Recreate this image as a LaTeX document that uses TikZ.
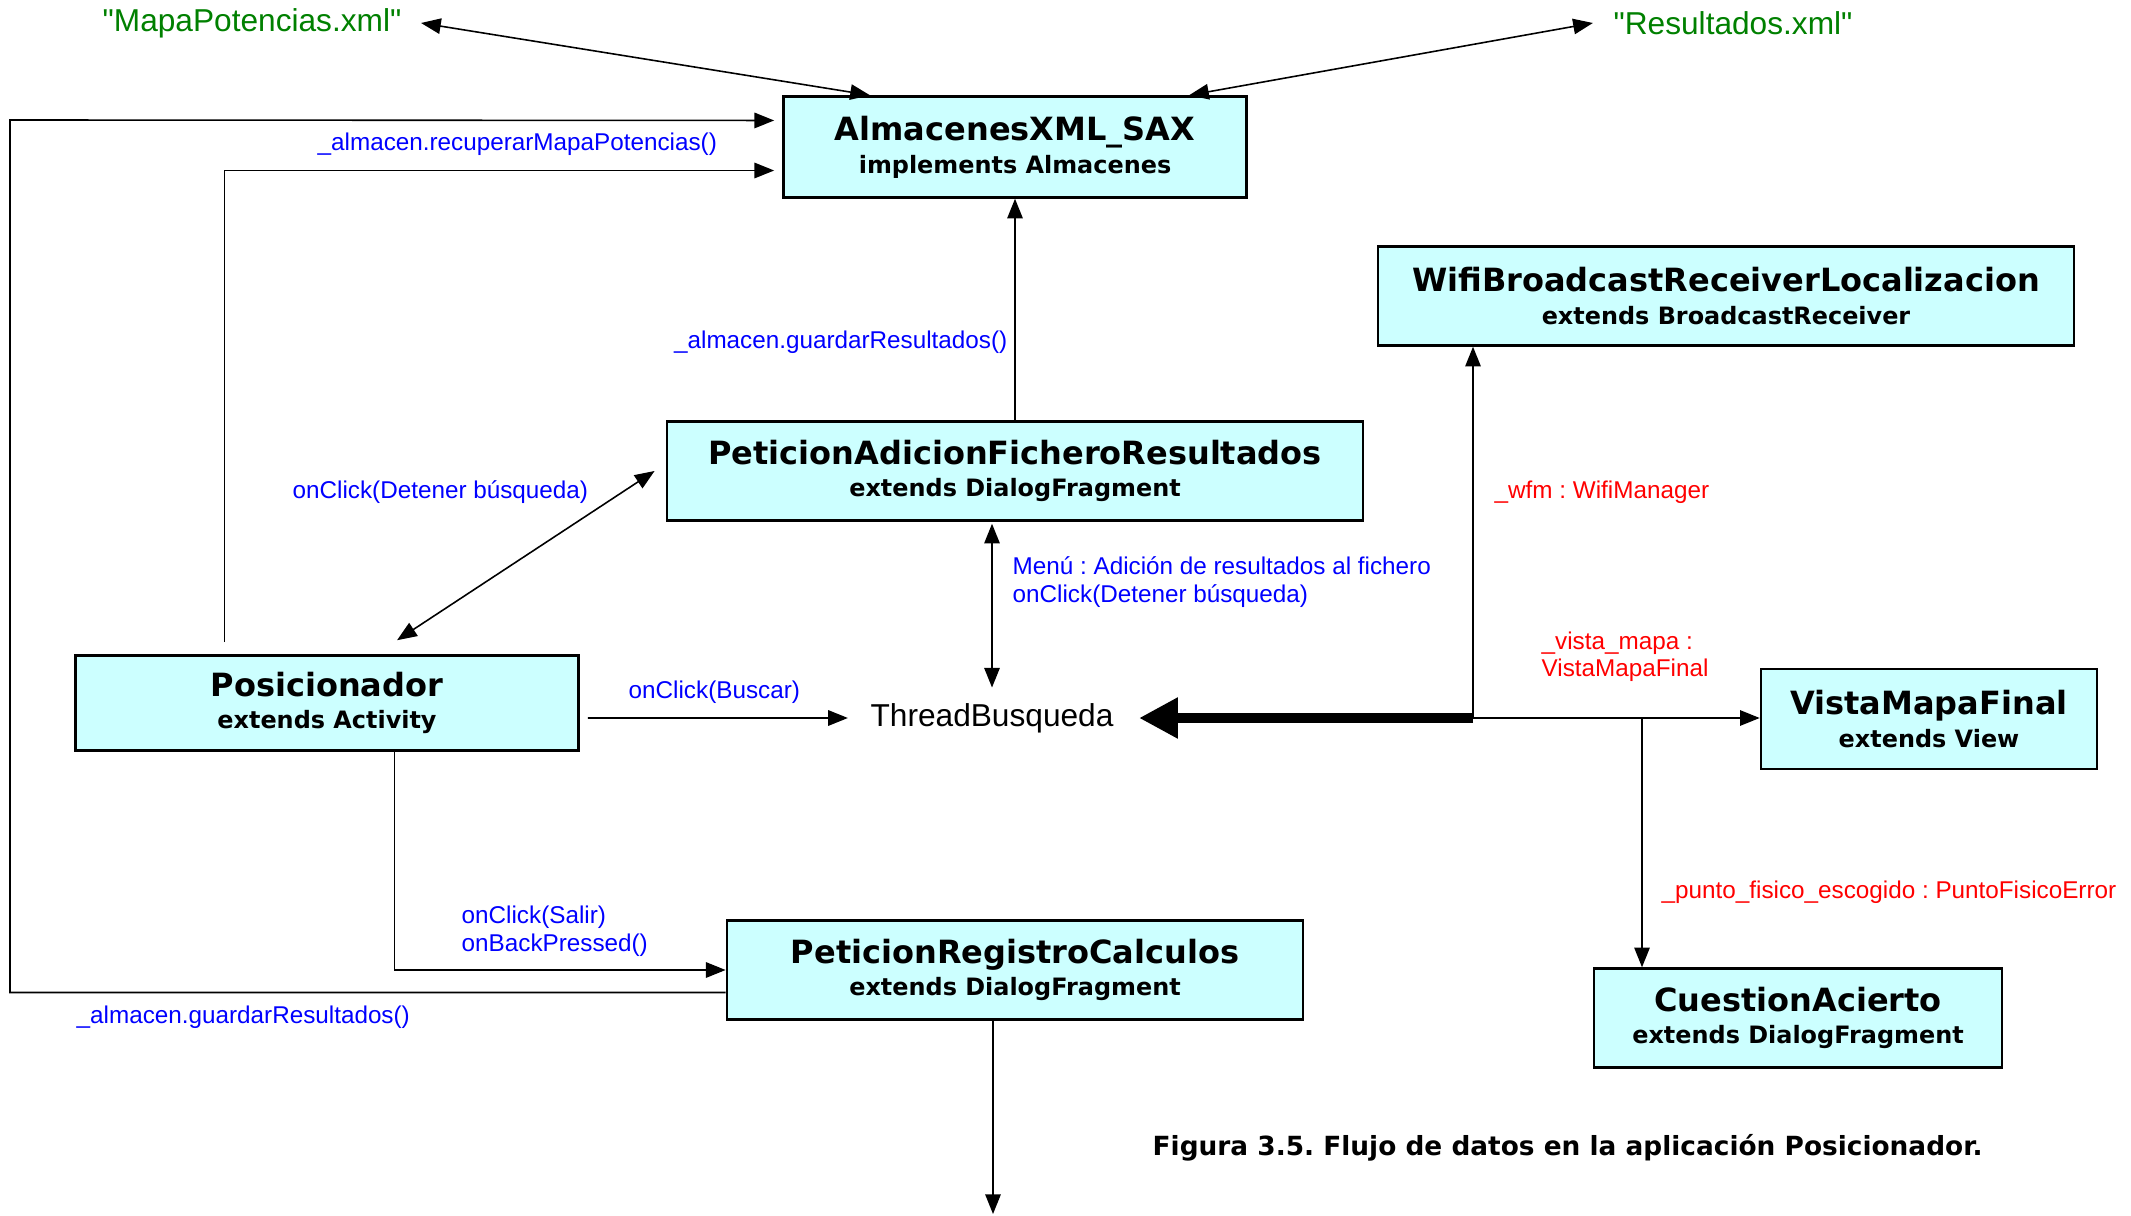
\documentclass[tikz,border=0pt]{standalone}
\usepackage{fontspec}
\setmainfont{Liberation Sans}
\newfontfamily\cajafont{DejaVu Sans}
\usetikzlibrary{arrows.meta}
\frenchspacing

\definecolor{celeste}{RGB}{204,255,255}
\definecolor{verde}{RGB}{0,128,0}
\definecolor{azul}{RGB}{0,0,255}
\definecolor{rojo}{RGB}{255,0,0}

% title and subtitle of a class box
\newcommand{\clase}[2]{{\fontsize{9.1}{10}\selectfont #1}\\{#2}}

\tikzset{
	caja/.style={draw, line width=0.7pt, fill=celeste, align=center, inner sep=0pt,
		font=\cajafont\bfseries\fontsize{6.8}{9.3}\selectfont},
	etiq/.style={font=\fontsize{6.9}{7.8}\selectfont, text=azul, inner sep=0pt, anchor=west, align=left},
	flecha/.style={-{Triangle[length=5.6pt,width=4.4pt]}, line width=0.45pt},
	doble/.style={{Triangle[length=5.6pt,width=4.4pt]}-{Triangle[length=5.6pt,width=4.4pt]}, line width=0.45pt},
	gordo/.style={-{Triangle[length=11pt,width=11pt]}, line width=2.6pt}
}

\begin{document}
\begin{tikzpicture}[x=0.01cm, y=-0.01cm]
		\useasboundingbox (0,0) rectangle (2131,1216);
		
		% Files
		\node[text=verde, font=\fontsize{9}{11}\selectfont, inner sep=0pt] (mapa) at (252,23) {\textquotedbl MapaPotencias.xml\textquotedbl};
		\node[text=verde, font=\fontsize{9}{11}\selectfont, inner sep=0pt] (res) at (1733,23) {\textquotedbl Resultados.xml\textquotedbl};
		
		% Classes
		\node[caja, minimum width=4.63cm, minimum height=1.01cm] (alm) at (1015,147) {\clase{AlmacenesXML\_SAX}{implements Almacenes}};
		\node[caja, minimum width=6.96cm, minimum height=0.99cm] (wifi) at (1726,296) {\clase{WifiBroadcastReceiverLocalizacion}{extends BroadcastReceiver}};
		\node[caja, minimum width=6.96cm, minimum height=0.99cm] (adic) at (1015,471) {\clase{PeticionAdicionFicheroResultados}{extends DialogFragment}};
		\node[caja, minimum width=5.03cm, minimum height=0.95cm] (pos) at (327,703) {\clase{Posicionador}{extends Activity}};
		\node[caja, minimum width=3.36cm, minimum height=1.00cm] (vista) at (1929,719) {\clase{VistaMapaFinal}{extends View}};
		\node[caja, minimum width=5.76cm, minimum height=0.99cm] (reg) at (1015,970) {\clase{PeticionRegistroCalculos}{extends DialogFragment}};
		\node[caja, minimum width=4.08cm, minimum height=0.99cm] (cuest) at (1798,1018) {\clase{CuestionAcierto}{extends DialogFragment}};
		
		% Thread
		\node[font=\fontsize{9}{11}\selectfont, inner sep=0pt] (thread) at (992,718) {ThreadBusqueda};
		
		% Junctions and free end
		\coordinate (nudo) at (1473,718);
		\coordinate (nudo2) at (1642,718);
		\coordinate (esq) at (10,120);
		\coordinate (salida) at (993,1214);
		
		% Connectors to the files
		\draw[doble] ([xshift=1.9mm]mapa.east) -- ([xshift=-14.5mm]alm.north);
		\draw[doble] ([xshift=-2mm]res.west) -- ([xshift=17.4mm]alm.north);
		
		% Connectors to AlmacenesXML_SAX
		\draw[flecha] ([yshift=-2.25mm]reg.west) -| (esq) -- ([xshift=-0.8mm,yshift=2.65mm]alm.west);
		\draw[flecha] ([xshift=-10.25mm,yshift=1.2mm]pos.north) |- ([xshift=-0.8mm,yshift=-2.35mm]alm.west);
		\draw[flecha] (adic.north) -- (alm.south);
		
		% Posicionador
		\draw[doble] ([xshift=7mm,yshift=1.4mm]pos.north) -- ([xshift=-1.1mm]adic.west);
		\draw[flecha] ([xshift=0.8mm,yshift=-1.5mm]pos.east) -- ([xshift=-2.2mm]thread.west);
		\draw[flecha] ([xshift=6.75mm]pos.south) |- (reg.west);
		\draw[doble] ([yshift=-0.2mm]adic.south -| thread.north) -- ([yshift=1.5mm]thread.north);
		
		% Thread connections
		\draw[gordo] (nudo) -- ([xshift=2.5mm]thread.east);
		\draw[flecha] (nudo) -- (nudo |- wifi.south);
		\draw[flecha] (nudo) -- (nudo -| vista.west);
		\draw[flecha] (nudo2) -- (nudo2 |- cuest.north);
		\draw[flecha] (reg.south -| salida) -- (salida);
		
		% Labels
		\node[etiq] (l1) at (317,144) {\_almacen.recuperarMapaPotencias()};
		\node[etiq, anchor=east] (l2) at (1008,342) {\_almacen.guardarResultados()};
		\node[etiq] (l3) at (292,492) {onClick(Detener búsqueda)};
		\node[etiq] (l4) at (1012,582) {Menú : Adición de resultados al fichero\\onClick(Detener búsqueda)};
		\node[etiq] (l5) at (628,692) {onClick(Buscar)};
		\node[etiq] (l6) at (461,931) {onClick(Salir)\\onBackPressed()};
		\node[etiq] (l7) at (76,1017) {\_almacen.guardarResultados()};
		\node[etiq, text=rojo] (l8) at (1494,492) {\_wfm : WifiManager};
		\node[etiq, text=rojo] (l9) at (1541,657) {\_vista\_mapa :\\VistaMapaFinal};
		\node[etiq, text=rojo] (l10) at (1661,892) {\_punto\_fisico\_escogido : PuntoFisicoError};
		
		% Caption
		\node[anchor=west, inner sep=0pt, font=\cajafont\bfseries\fontsize{7.5}{9}\selectfont] (pie) at (1152,1148) {Figura 3.5. Flujo de datos en la aplicación Posicionador.};
	\end{tikzpicture}
\end{document}
